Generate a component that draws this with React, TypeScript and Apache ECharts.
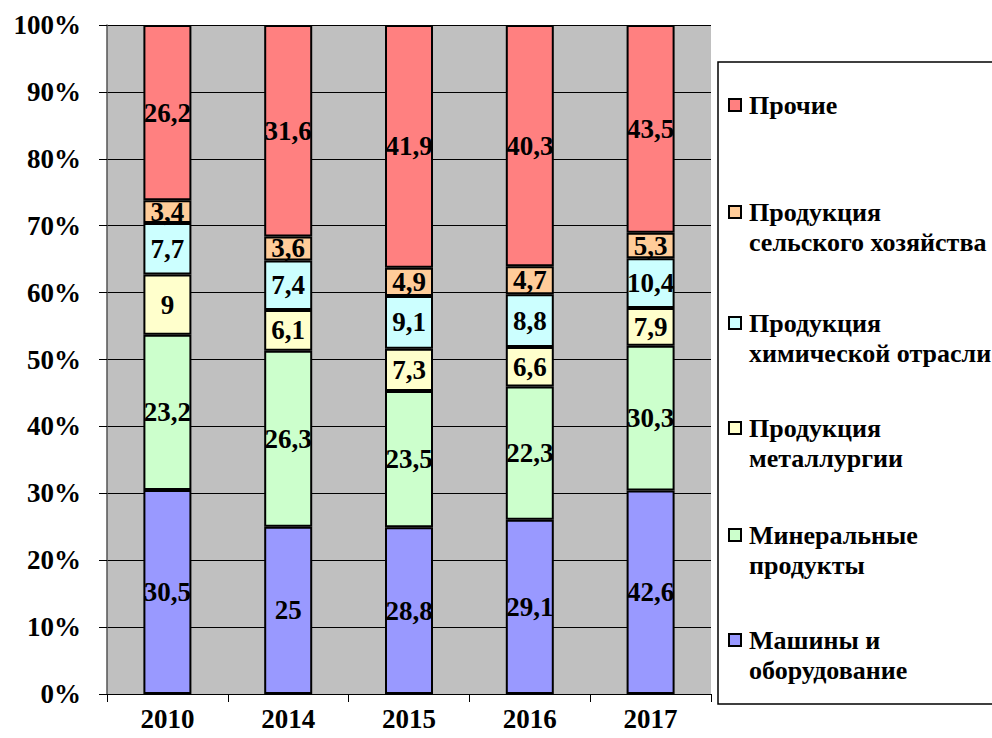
import React, { useEffect, useRef } from "react";
import * as echarts from "echarts";

const years = ["2010", "2014", "2015", "2016", "2017"];
const seriesNames = [
  "Машины и оборудование",
  "Минеральные продукты",
  "Продукция металлургии",
  "Продукция химической отрасли",
  "Продукция сельского хозяйства",
  "Прочие",
];
const legendLabels = [
  "Машины и\nоборудование",
  "Минеральные\nпродукты",
  "Продукция\nметаллургии",
  "Продукция\nхимической отрасли",
  "Продукция\nсельского хозяйства",
  "Прочие",
];
const colors = ["#9999FF", "#CCFFCC", "#FFFFCC", "#CCFFFF", "#FFCC99", "#FF8080"];

const machines = [30.5, 25, 28.8, 29.1, 42.6];
const minerals = [23.2, 26.3, 23.5, 22.3, 30.3];
const metallurgy = [9, 6.1, 7.3, 6.6, 7.9];
const chemical = [7.7, 7.4, 9.1, 8.8, 10.4];
const agriculture = [3.4, 3.6, 4.9, 4.7, 5.3];
const other = [26.2, 31.6, 41.9, 40.3, 43.5];

const yTicks = [0, 10, 20, 30, 40, 50, 60, 70, 80, 90, 100];

const FONT = "Liberation Serif";

export default function App() {
  const ref = useRef<HTMLDivElement>(null);

  useEffect(() => {
    if (!ref.current) return;
    const chart = echarts.init(ref.current, undefined, { renderer: "svg" });
    const raw = [machines, minerals, metallurgy, chemical, agriculture, other];
    const totals = years.map((_, i) => raw.reduce((s, arr) => s + arr[i], 0));

    const series = raw.map((arr, si) => ({
      name: seriesNames[si],
      type: "bar",
      stack: "total",
      barWidth: 48,
      itemStyle: { color: colors[si], borderColor: "#000", borderWidth: 2 },
      label: {
        show: true,
        position: "inside",
        color: "#000",
        fontFamily: FONT,
        fontWeight: "bold",
        fontSize: 27,
        formatter: (p: any) => String(arr[p.dataIndex]).replace(".", ","),
      },
      data: arr.map((v, i) => (v / totals[i]) * 100),
    }));

    const legendFirstLineY = [640, 535, 428, 323, 212, 105];
    const graphics: any[] = [
      {
        type: "rect",
        shape: { x: 718, y: 62, width: 300, height: 642 },
        style: { fill: "#fff", stroke: "#000", lineWidth: 1.5 },
        z: 1,
      },
    ];
    legendLabels.forEach((lbl, i) => {
      const cy = legendFirstLineY[i];
      graphics.push({
        type: "rect",
        shape: { x: 729, y: cy - 6, width: 12, height: 12 },
        style: { fill: colors[i], stroke: "#000", lineWidth: 2 },
        z: 2,
      });
      graphics.push({
        type: "text",
        x: 749,
        y: cy - 15,
        z: 2,
        style: {
          text: lbl,
          fontFamily: FONT,
          fontWeight: "bold",
          fontSize: 26,
          fill: "#000",
          lineHeight: 30,
          verticalAlign: "top",
          align: "left",
        },
      });
    });

    chart.setOption({
      animation: false,
      textStyle: { fontFamily: FONT },
      grid: {
        left: 107,
        right: 281,
        top: 25,
        bottom: 44,
        show: true,
        backgroundColor: "#C0C0C0",
        borderWidth: 0,
      },
      xAxis: {
        type: "category",
        data: years,
        axisLine: { lineStyle: { color: "#000", width: 1 } },
        axisTick: { show: true, length: 8, lineStyle: { color: "#000" } },
        axisLabel: {
          color: "#000",
          fontFamily: FONT,
          fontWeight: "bold",
          fontSize: 27,
          margin: 11,
        },
      },
      yAxis: {
        type: "value",
        min: yTicks[0],
        max: yTicks[yTicks.length - 1],
        interval: 10,
        axisLine: { show: true, lineStyle: { color: "#555", width: 1.5 } },
        axisTick: { show: true, length: 8, lineStyle: { color: "#000" } },
        splitLine: { show: true, lineStyle: { color: "#000", width: 1 } },
        axisLabel: {
          color: "#000",
          fontFamily: FONT,
          fontWeight: "bold",
          fontSize: 27,
          margin: 26,
          formatter: "{value}%",
        },
      },
      series,
      graphic: graphics,
    });
    return () => chart.dispose();
  }, []);

  return (
    <div
      ref={ref}
      style={{ position: "fixed", left: 0, top: 0, width: 992, height: 738, background: "#fff" }}
    />
  );
}
